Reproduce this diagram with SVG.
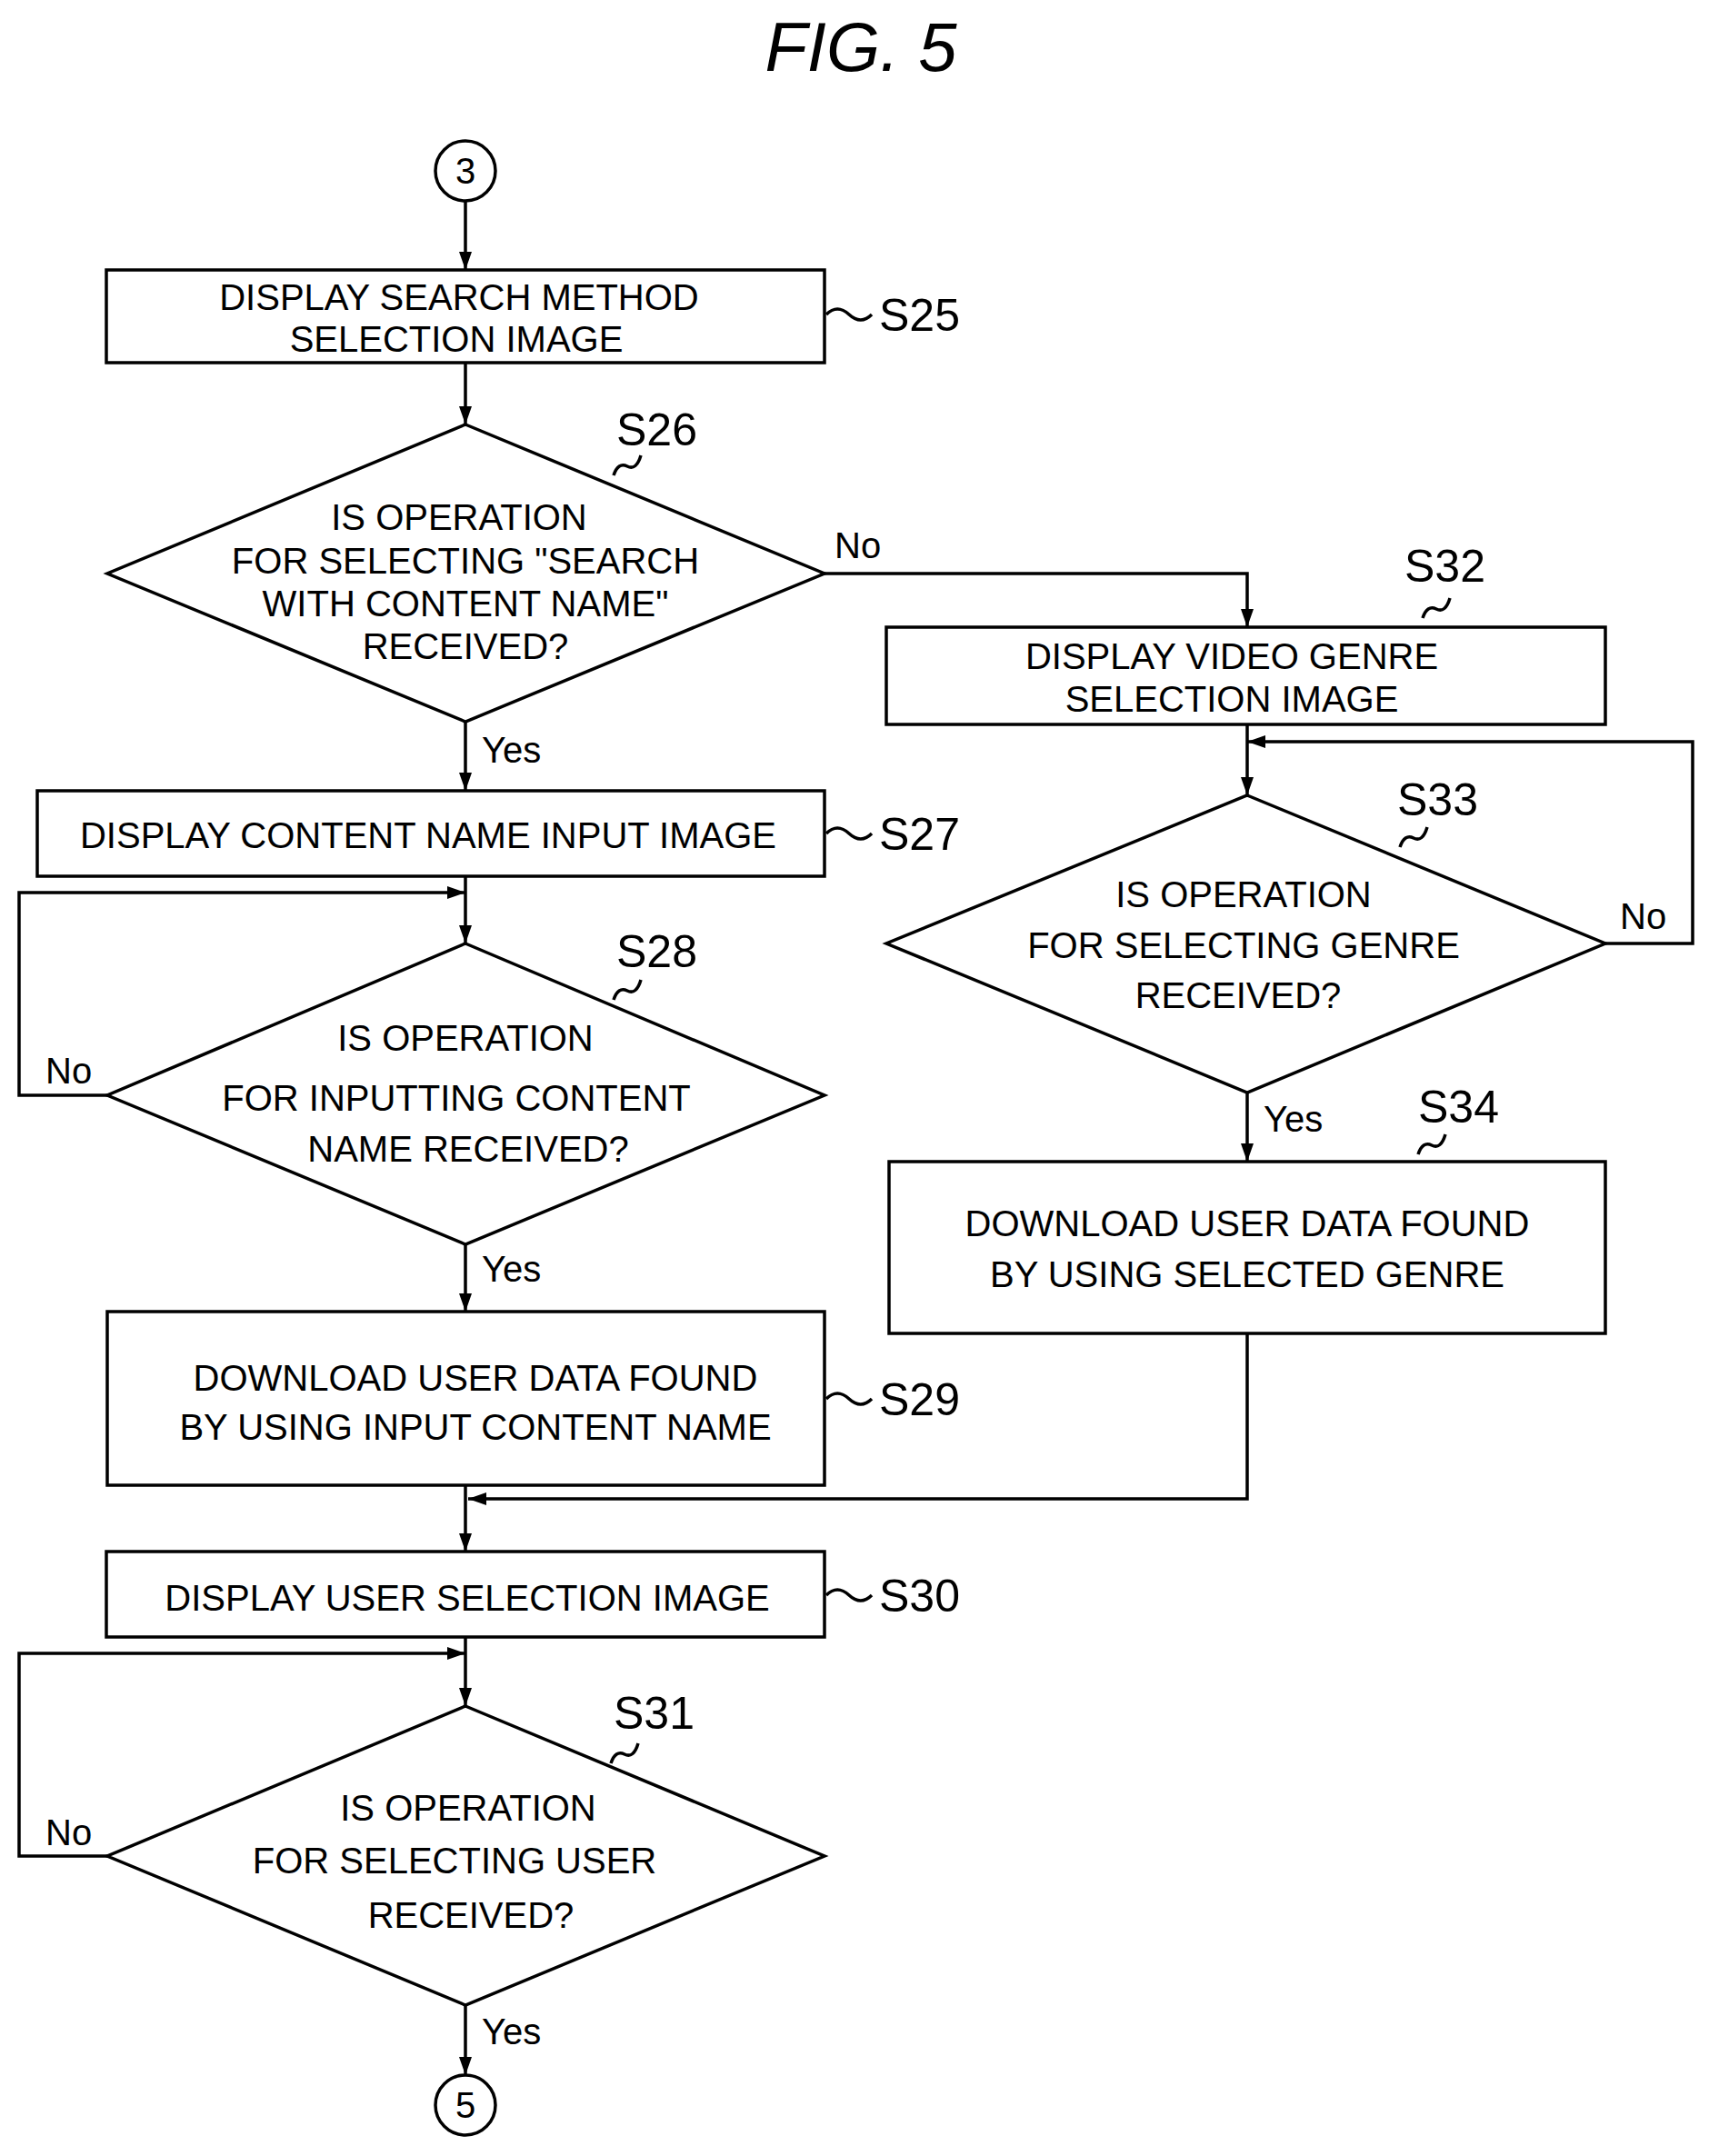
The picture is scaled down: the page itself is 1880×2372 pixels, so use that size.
<svg xmlns="http://www.w3.org/2000/svg" width="1880" height="2372" viewBox="0 0 1880 2372">
<style>
.s{fill:none;stroke:#000;stroke-width:3.5}
.t{font-family:"Liberation Sans",Arial,sans-serif;font-size:40px;text-anchor:middle}
.l{font-family:"Liberation Sans",Arial,sans-serif;font-size:50px}
.y{font-family:"Liberation Sans",Arial,sans-serif;font-size:40px}
</style>
<defs><marker id="a" markerWidth="10" markerHeight="10" refX="9" refY="5" orient="auto" markerUnits="userSpaceOnUse" viewBox="0 0 10 10"><path d="M0,0L10,5L0,10z" transform="scale(1)"/></marker>
<marker id="b" viewBox="0 0 20 14" refX="20" refY="7" markerWidth="20" markerHeight="14" orient="auto" markerUnits="userSpaceOnUse"><path d="M0,0L20,7L0,14z"/></marker></defs>
<rect width="1880" height="2372" fill="#fff"/>
<text x="947" y="78" style="font-family:'Liberation Sans',Arial,sans-serif;font-size:76px;font-style:italic;text-anchor:middle">FIG. 5</text>
<g id="connectors" class="s" marker-end="url(#b)">
<line x1="512" y1="221" x2="512" y2="297"/>
<line x1="512" y1="399" x2="512" y2="467"/>
<polyline points="907,631 1372,631 1372,690"/>
<line x1="1372" y1="797" x2="1372" y2="875"/>
<polyline points="1766,1038 1862,1038 1862,816 1372,816"/>
<line x1="1372" y1="1202" x2="1372" y2="1278"/>
<polyline points="1372,1467 1372,1649 515,1649"/>
<line x1="512" y1="794" x2="512" y2="870"/>
<line x1="512" y1="964" x2="512" y2="1038"/>
<polyline points="118,1205 21,1205 21,982 512,982"/>
<line x1="512" y1="1369" x2="512" y2="1443"/>
<line x1="512" y1="1634" x2="512" y2="1707"/>
<line x1="512" y1="1801" x2="512" y2="1877"/>
<polyline points="118,2042 21,2042 21,1819 512,1819"/>
<line x1="512" y1="2206" x2="512" y2="2283"/>
</g>
<g id="labels">
<text class="y" x="918" y="614">No</text>
<text class="y" x="1782" y="1022">No</text>
<text class="y" x="50" y="1192">No</text>
<text class="y" x="50" y="2030">No</text>
<text class="y" x="530" y="839">Yes</text>
<text class="y" x="1390" y="1245">Yes</text>
<text class="y" x="530" y="1410">Yes</text>
<text class="y" x="530" y="2249">Yes</text>
</g>
<g id="c3"><circle class="s" cx="512" cy="188" r="33"/><text class="t" x="512" y="202">3</text></g>
<g id="S25"><rect class="s" x="117" y="297" width="790" height="102"/><text class="t" x="505" y="341">DISPLAY SEARCH METHOD</text><text class="t" x="502" y="387">SELECTION IMAGE</text><path class="s" d="M909,346q12,-12 25,0t25,0"/><text class="l" x="967" y="364">S25</text></g>
<g id="S26"><polygon class="s" points="512,467 907,631 512,794 118,631"/><text class="t" x="505" y="583">IS OPERATION</text><text class="t" x="512" y="631">FOR SELECTING "SEARCH</text><text class="t" x="512" y="678">WITH CONTENT NAME"</text><text class="t" x="512" y="725">RECEIVED?</text><path class="s" d="M675,523q5,-15 15,-10t15,-12"/><text class="l" x="678" y="490">S26</text></g>
<g id="S32"><rect class="s" x="975" y="690" width="791" height="107"/><text class="t" x="1355" y="736">DISPLAY VIDEO GENRE</text><text class="t" x="1355" y="783">SELECTION IMAGE</text><path class="s" d="M1565,680q5,-15 15,-10t15,-12"/><text class="l" x="1545" y="640">S32</text></g>
<g id="S33"><polygon class="s" points="1372,875 1766,1038 1372,1202 975,1038"/><text class="t" x="1368" y="998">IS OPERATION</text><text class="t" x="1368" y="1054">FOR SELECTING GENRE</text><text class="t" x="1362" y="1109">RECEIVED?</text><path class="s" d="M1540,932q5,-15 15,-10t15,-12"/><text class="l" x="1537" y="897">S33</text></g>
<g id="S34"><rect class="s" x="978" y="1278" width="788" height="189"/><text class="t" x="1372" y="1360">DOWNLOAD USER DATA FOUND</text><text class="t" x="1372" y="1416">BY USING SELECTED GENRE</text><path class="s" d="M1560,1270q5,-15 15,-10t15,-12"/><text class="l" x="1560" y="1235">S34</text></g>
<g id="S27"><rect class="s" x="41" y="870" width="866" height="94"/><text class="t" x="471" y="933">DISPLAY CONTENT NAME INPUT IMAGE</text><path class="s" d="M909,917q12,-12 25,0t25,0"/><text class="l" x="967" y="935">S27</text></g>
<g id="S28"><polygon class="s" points="512,1038 907,1205 512,1369 118,1205"/><text class="t" x="512" y="1156">IS OPERATION</text><text class="t" x="502" y="1222">FOR INPUTTING CONTENT</text><text class="t" x="515" y="1278">NAME RECEIVED?</text><path class="s" d="M675,1100q5,-15 15,-10t15,-12"/><text class="l" x="678" y="1064">S28</text></g>
<g id="S29"><rect class="s" x="118" y="1443" width="789" height="191"/><text class="t" x="523" y="1530">DOWNLOAD USER DATA FOUND</text><text class="t" x="523" y="1584">BY USING INPUT CONTENT NAME</text><path class="s" d="M909,1539q12,-12 25,0t25,0"/><text class="l" x="967" y="1557">S29</text></g>
<g id="S30"><rect class="s" x="117" y="1707" width="790" height="94"/><text class="t" x="514" y="1772">DISPLAY USER SELECTION IMAGE</text><path class="s" d="M909,1755q12,-12 25,0t25,0"/><text class="l" x="967" y="1773">S30</text></g>
<g id="S31"><polygon class="s" points="512,1877 907,2042 512,2206 118,2042"/><text class="t" x="515" y="2003">IS OPERATION</text><text class="t" x="500" y="2061">FOR SELECTING USER</text><text class="t" x="518" y="2121">RECEIVED?</text><path class="s" d="M672,1940q5,-15 15,-10t15,-12"/><text class="l" x="675" y="1902">S31</text></g>
<g id="c5"><circle class="s" cx="512" cy="2316" r="33"/><text class="t" x="512" y="2330">5</text></g>
</svg>
